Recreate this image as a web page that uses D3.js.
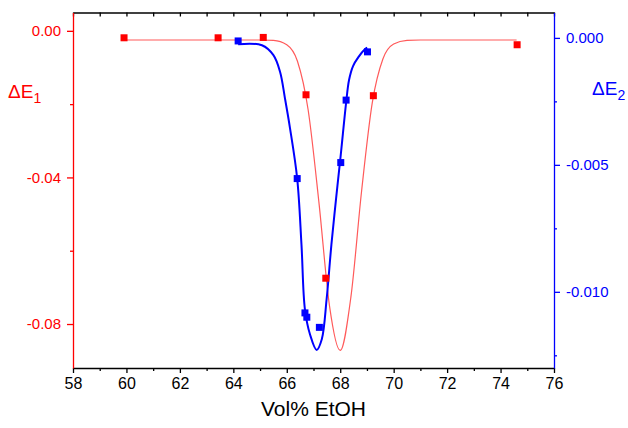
<!DOCTYPE html>
<html>
<head>
<meta charset="utf-8">
<script src="https://cdn.jsdelivr.net/npm/d3@7"></script>
<style>
  body { margin: 0; background: #fff; }
  svg { display: block; font-family: "Liberation Sans", Arial, sans-serif; }
</style>
</head>
<body>
<div id="chart-area"></div>
<script>
// data
var xTicks = [58, 60, 62, 64, 66, 68, 70, 72, 74, 76];
var xMinor = [59, 61, 63, 65, 67, 69, 71, 73, 75];
var e1Ticks = [0, -0.04, -0.08];
var e1Minor = [-0.02, -0.06];
var e2Ticks = [0, -0.005, -0.010];
var e2Minor = [-0.0025, -0.0075, -0.0125];

// ΔE1 measured (red squares)
var e1X = [59.91, 63.43, 65.12, 66.72, 67.46, 69.24, 74.62];
var e1Y = [-0.0019, -0.0019, -0.0018, -0.01745, -0.0675, -0.0177, -0.0038];

// ΔE2 measured (blue squares)
var e2X = [64.18, 66.39, 66.68, 66.75, 67.22, 68.02, 68.22, 69.02];
var e2Y = [-0.00012, -0.00554, -0.01083, -0.0110, -0.0114, -0.00491, -0.00245, -0.00055];

// fitted curves, points
var fit1X = [59.9, 64.0, 65.0, 65.5, 66.0, 66.4, 66.8, 67.2, 67.6, 68.0, 68.4, 68.8, 69.2, 69.6, 70.0, 70.5, 71.0, 72.0, 74.6];
var fit1Y = [-0.0025, -0.0025, -0.0025, -0.0026, -0.0038, -0.0083, -0.0216, -0.0466, -0.0751, -0.0872, -0.0726, -0.0437, -0.0196, -0.0076, -0.0036, -0.0026, -0.0025, -0.0025, -0.0025];

var fit2X = [64.18, 65.07, 65.50, 65.75, 65.93, 66.12, 66.39, 66.55, 66.68, 66.87, 67.12, 67.31, 67.49, 67.67, 67.84, 68.02, 68.22, 68.33, 68.48, 68.68, 68.93, 69.01];
var fit2Y = [-0.00025, -0.00029, -0.00068, -0.00134, -0.00237, -0.00355, -0.00554, -0.00814, -0.0107, -0.01168, -0.01229, -0.01187, -0.0103, -0.00814, -0.00638, -0.00461, -0.00256, -0.00166, -0.00111, -0.00076, -0.00044, -0.00038];

var RED = "#ff0000", BLUE = "#0000ff";
var W = 628, H = 428;
var padL = 73, padR = 554, padT = 12.5, padB = 368;

var svg = d3.select("#chart-area").append("svg")
    .attr("width", W)
    .attr("height", H);

var x = d3.scaleLinear().domain([58, 76]).range([padL, padR]);
var y1 = d3.scaleLinear().domain([-0.092, 0.005]).range([padB, padT]);
var y2 = d3.scaleLinear().domain([-0.013, 0.001]).range([padB, padT]);

// frame top (black, inward ticks)
svg.append("g")
    .attr("transform", "translate(0," + padT + ")")
    .call(d3.axisTop(x).tickValues(d3.merge([xTicks, xMinor])).tickSize(-4).tickSizeOuter(0).tickFormat(""))
    .call(function(g) { g.selectAll("path, line").attr("stroke", "#000").attr("stroke-width", 1.3); });

// bottom axis
var gx = svg.append("g")
    .attr("transform", "translate(0," + padB + ")");
gx.append("g")
    .call(d3.axisBottom(x).tickValues(xMinor).tickSize(3).tickFormat(""))
    .call(function(g) { g.select(".domain").remove(); });
gx.append("g")
    .call(d3.axisBottom(x).tickValues(xTicks).tickSize(5).tickSizeOuter(0).tickPadding(5).tickFormat(function(d) { return d; }));
gx.selectAll("path, line").attr("stroke", "#000").attr("stroke-width", 1.3);
gx.selectAll("text").attr("font-size", 16).attr("fill", "#000").attr("font-family", "Liberation Sans, Arial, sans-serif");

// left axis (ΔE1)
var gl = svg.append("g")
    .attr("transform", "translate(" + padL + ",0)");
gl.append("g")
    .call(d3.axisLeft(y1).tickValues(e1Minor).tickSize(3).tickFormat(""))
    .call(function(g) { g.select(".domain").remove(); });
gl.append("g")
    .call(d3.axisLeft(y1).tickValues(e1Ticks).tickSize(6).tickSizeOuter(0).tickPadding(6).tickFormat(function(d) { return d.toFixed(2); }));
gl.selectAll("path, line").attr("stroke", RED).attr("stroke-width", 1.3);
gl.selectAll("text").attr("font-size", 15).attr("fill", RED).attr("font-family", "Liberation Sans, Arial, sans-serif");

// right axis (ΔE2)
var gr = svg.append("g")
    .attr("transform", "translate(" + padR + ",0)");
gr.append("g")
    .call(d3.axisRight(y2).tickValues(e2Minor).tickSize(3).tickFormat(""))
    .call(function(g) { g.select(".domain").remove(); });
gr.append("g")
    .call(d3.axisRight(y2).tickValues(e2Ticks).tickSize(6).tickSizeOuter(0).tickPadding(6).tickFormat(function(d) { return d.toFixed(3); }));
gr.selectAll("path, line").attr("stroke", BLUE).attr("stroke-width", 1.3);
gr.selectAll("text").attr("font-size", 15).attr("fill", BLUE).attr("font-family", "Liberation Sans, Arial, sans-serif");

// axis titles
svg.append("text")
    .attr("x", (padL + padR) / 2).attr("y", 416)
    .attr("text-anchor", "middle")
    .attr("font-size", 21)
    .text("Vol% EtOH");

var t1 = svg.append("text").attr("x", 8).attr("y", 98).attr("font-size", 19).attr("fill", RED);
t1.append("tspan").text("ΔE");
t1.append("tspan").attr("dy", 5).attr("font-size", 14).text("1");

var t2 = svg.append("text").attr("x", 592).attr("y", 95).attr("font-size", 19).attr("fill", BLUE);
t2.append("tspan").text("ΔE");
t2.append("tspan").attr("dy", 5).attr("font-size", 14).text("2");

// fitted lines
var fit1 = fit1X.map(function(d, i) { return [d, fit1Y[i]]; });
var fit2 = fit2X.map(function(d, i) { return [d, fit2Y[i]]; });

svg.append("path")
    .datum(fit1)
    .attr("fill", "none")
    .attr("stroke", "#ff5a5a")
    .attr("stroke-width", 1.2)
    .attr("d", d3.line().curve(d3.curveMonotoneX)
        .x(function(d) { return x(d[0]); })
        .y(function(d) { return y1(d[1]); }));

svg.append("path")
    .datum(fit2)
    .attr("fill", "none")
    .attr("stroke", BLUE)
    .attr("stroke-width", 2)
    .attr("d", d3.line().curve(d3.curveCatmullRom.alpha(0.5))
        .x(function(d) { return x(d[0]); })
        .y(function(d) { return y2(d[1]); }));

// markers
var s = 7;
svg.selectAll("rect.e1")
    .data(e1X)
    .enter().append("rect")
    .attr("class", "e1")
    .attr("x", function(d) { return x(d) - s / 2; })
    .attr("y", function(d, i) { return y1(e1Y[i]) - s / 2; })
    .attr("width", s).attr("height", s)
    .attr("fill", RED);

svg.selectAll("rect.e2")
    .data(e2X)
    .enter().append("rect")
    .attr("class", "e2")
    .attr("x", function(d) { return x(d) - s / 2; })
    .attr("y", function(d, i) { return y2(e2Y[i]) - s / 2; })
    .attr("width", s).attr("height", s)
    .attr("fill", BLUE);
</script>
</body>
</html>
